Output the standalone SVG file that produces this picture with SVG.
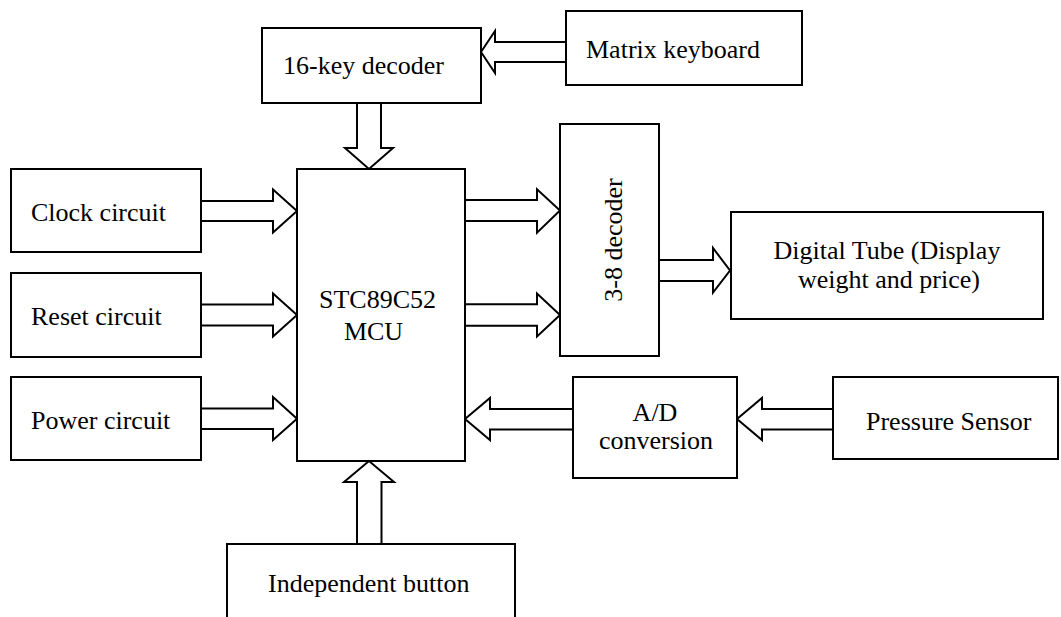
<svg xmlns="http://www.w3.org/2000/svg" width="1061" height="617" viewBox="0 0 1061 617">
<style>
.box{fill:#fff;stroke:#000;stroke-width:2}
.arr{fill:none;stroke:#000;stroke-width:2;stroke-linejoin:miter}
text{font-family:"Liberation Serif","Times New Roman",serif;font-size:26px;fill:#000}
.m{text-anchor:middle}
</style>
<rect width="1061" height="617" fill="#fff"/>
<g id="connectors">
<path class="arr" d="M566,42 H495 V31 L481,52 L495,73 V62 H566"/>
<path class="arr" d="M357,103 V148 H345 L369,169 L393,148 H381 V103"/>
<path class="arr" d="M201,201 H273 V189.5 L297,211 L273,232.5 V221 H201"/>
<path class="arr" d="M201,304.5 H273 V293.5 L297,315 L273,336.5 V325.5 H201"/>
<path class="arr" d="M201,408.5 H273 V397 L297,418.7 L273,440 V429 H201"/>
<path class="arr" d="M465,200 H537 V189.3 L560,210.5 L537,232.7 V221 H465"/>
<path class="arr" d="M465,304.3 H537 V293.5 L560,315 L537,336.5 V325.7 H465"/>
<path class="arr" d="M659,260 H713 V248 L730,270.5 L713,292.5 V281 H659"/>
<path class="arr" d="M833,409 H762 V398 L737,419 L762,440 V429.5 H833"/>
<path class="arr" d="M573,409 H490 V398 L465,419 L490,440 V429.5 H573"/>
<path class="arr" d="M357,544 V482 H344 L369,461 L394,482 H381.5 V544"/>
</g>
<g id="dec16"><rect class="box" x="262" y="28" width="219" height="75"/><text x="283" y="74">16-key decoder</text></g>
<g id="matrix"><rect class="box" x="566" y="11" width="236" height="74"/><text x="586" y="58">Matrix keyboard</text></g>
<g id="clock"><rect class="box" x="11" y="169" width="190" height="83"/><text x="31" y="221">Clock circuit</text></g>
<g id="reset"><rect class="box" x="11" y="273" width="190" height="84"/><text x="31" y="325">Reset circuit</text></g>
<g id="power"><rect class="box" x="11" y="377" width="190" height="83"/><text x="31" y="429">Power circuit</text></g>
<g id="mcu"><rect class="box" x="297" y="169" width="168" height="292"/><text class="m" x="377.5" y="308">STC89C52</text><text class="m" x="373.5" y="340">MCU</text></g>
<g id="dec38"><rect class="box" x="560" y="124" width="99" height="232"/><text class="m" transform="translate(622,240) rotate(-90)">3-8 decoder</text></g>
<g id="digital"><rect class="box" x="731" y="212" width="312" height="107"/><text class="m" x="887" y="259">Digital Tube (Display</text><text class="m" x="889" y="288">weight and price)</text></g>
<g id="ad"><rect class="box" x="573" y="377" width="164" height="101"/><text class="m" x="655" y="421">A/D</text><text class="m" x="656" y="449">conversion</text></g>
<g id="pressure"><rect class="box" x="833" y="377" width="225" height="82"/><text x="866" y="430">Pressure Sensor</text></g>
<g id="button"><path class="box" d="M227,618 V544 H515 V618"/><text x="268" y="592">Independent button</text></g>
</svg>
